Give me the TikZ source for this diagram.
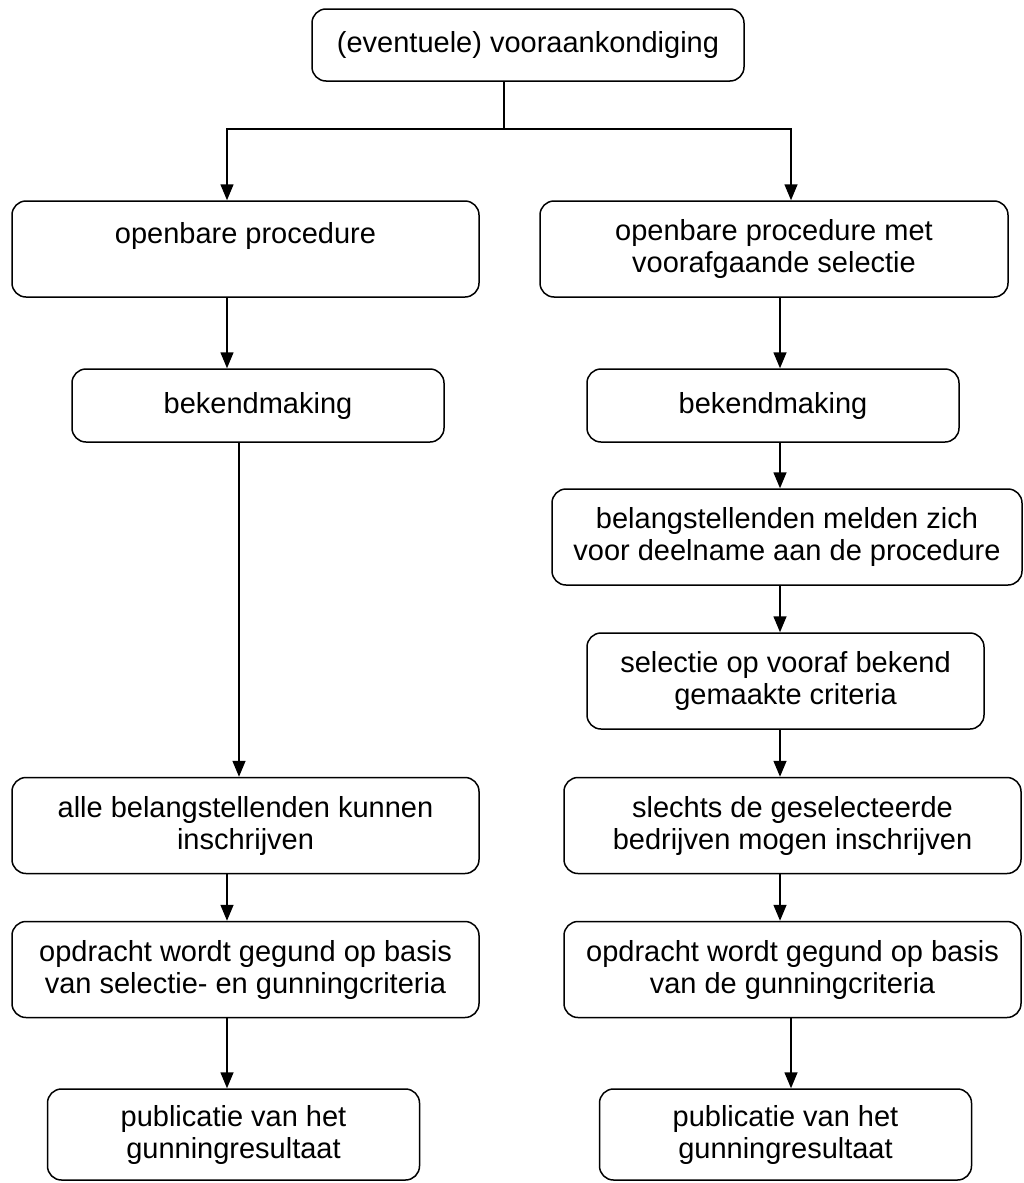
\documentclass[tikz,border=0pt]{standalone}
\usepackage{fontspec}
\setmainfont{Liberation Sans}
\usetikzlibrary{arrows.meta}

\begin{document}
\begin{tikzpicture}[>={Triangle[width=13pt,length=16pt]}, line width=1.5pt, box/.style={draw, rounded corners=14pt, align=center, inner sep=0pt, minimum height=96pt, font=\fontsize{29}{32}\selectfont}, wide/.style={minimum width=467pt}, short/.style={minimum width=372pt, minimum height=73pt}, pub/.style={minimum width=372pt, minimum height=91pt}]
\useasboundingbox (0pt, 0pt) rectangle (1023pt, -1183pt);
\draw (528.0pt, -45.0pt)node[box, minimum width=432pt, minimum height=72pt](top){(eventuele) vooraankondiging};
\draw (245.5pt, -249.0pt)node[box, wide](l1){openbare procedure\\\mbox{}};
\draw (774.0pt, -249.0pt)node[box, minimum width=468pt](r1){openbare procedure met\\voorafgaande selectie};
\draw (258.0pt, -405.5pt)node[box, short](l2){bekendmaking};
\draw (773.0pt, -405.5pt)node[box, short](r2){bekendmaking};
\draw (787.0pt, -537.0pt)node[box, minimum width=470pt](r3){belangstellenden melden zich\\voor deelname aan de procedure};
\draw (785.5pt, -681.0pt)node[box, minimum width=397pt](r4){selectie op vooraf bekend\\gemaakte criteria};
\draw (245.5pt, -825.5pt)node[box, wide](l3){alle belangstellenden kunnen\\inschrijven};
\draw (792.5pt, -825.5pt)node[box, minimum width=457pt](r5){slechts de geselecteerde\\bedrijven mogen inschrijven};
\draw (245.5pt, -969.5pt)node[box, wide](l4){opdracht wordt gegund op basis\\van selectie- en gunningcriteria};
\draw (792.5pt, -969.5pt)node[box, minimum width=457pt](r6){opdracht wordt gegund op basis\\van de gunningcriteria};
\draw (233.5pt, -1134.5pt)node[box, pub](l5){publicatie van het\\gunningresultaat};
\draw (785.5pt, -1134.5pt)node[box, pub](r7){publicatie van het\\gunningresultaat};
\coordinate (xl) at (227pt, 0pt);
\coordinate (xm) at (239pt, 0pt);
\coordinate (xr) at (780pt, 0pt);
\coordinate (xs) at (791pt, 0pt);
\coordinate (fork) at (504pt, -129pt);
\draw (top.south -| fork) -- (fork);
\draw[->] (fork) -| (l1.north -| xl);
\draw[->] (fork) -| (r1.north -| xs);
\path[->] (l1.south -| xl) edge (l2.north -| xl);
\path[->] (l2.south -| xm) edge (l3.north -| xm);
\path[->] (l3.south -| xl) edge (l4.north -| xl);
\path[->] (l4.south -| xl) edge (l5.north -| xl);
\path[->] (r1.south -| xr) edge (r2.north -| xr);
\path[->] (r2.south -| xr) edge (r3.north -| xr);
\path[->] (r3.south -| xr) edge (r4.north -| xr);
\path[->] (r4.south -| xr) edge (r5.north -| xr);
\path[->] (r5.south -| xr) edge (r6.north -| xr);
\path[->] (r6.south -| xs) edge (r7.north -| xs);
\end{tikzpicture}
\end{document}
